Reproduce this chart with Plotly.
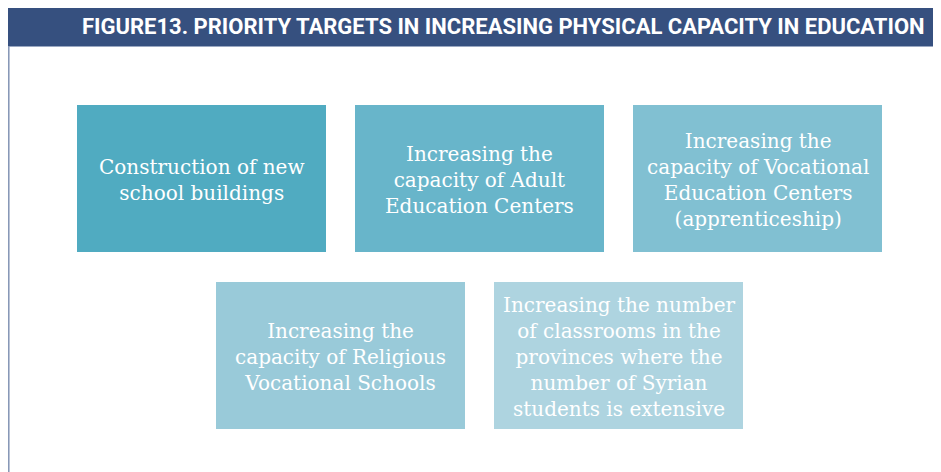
import plotly.graph_objects as go

title_text = "FIGURE13. PRIORITY TARGETS IN INCREASING PHYSICAL CAPACITY IN EDUCATION"

labels = [
    "Construction of new<br>school buildings",
    "Increasing the<br>capacity of Adult<br>Education Centers",
    "Increasing the<br>capacity of Vocational<br>Education Centers<br>(apprenticeship)",
    "Increasing the<br>capacity of Religious<br>Vocational Schools",
    "Increasing the number<br>of classrooms in the<br>provinces where the<br>number of Syrian<br>students is extensive",
]
rows = [0, 0, 0, 1, 1]
cols = [0, 1, 2, 0.5, 1.5]
colors = ["#50abc1", "#68b5ca", "#81c0d2", "#99cad9", "#aed4e0"]

W, H = 941, 472
OFF = 8  # default page body margin
box_w, box_h = 249, 147
x0_base, col_step = 77, 278
y0_base, row_step = 105, 177

fig = go.Figure()
shapes = []
annotations = []

# frame and title bar
shapes.append(dict(type="rect", xref="x", yref="y", x0=OFF, x1=W, y0=OFF, y1=46,
                   fillcolor="#36507f", line=dict(width=0)))
shapes.append(dict(type="line", xref="x", yref="y", x0=OFF, x1=W, y0=46.5, y1=46.5,
                   line=dict(color="#9aa8c2", width=1)))
shapes.append(dict(type="line", xref="x", yref="y", x0=OFF + 0.8, x1=OFF + 0.8, y0=46, y1=H,
                   line=dict(color="#8393b4", width=1.5)))
annotations.append(dict(x=503, y=26, xref="x", yref="y", text="<b>" + title_text + "</b>",
                        showarrow=False, xanchor="center", yanchor="middle",
                        font=dict(family="Roboto", size=22, color="white")))

for lab, r, c, col in zip(labels, rows, cols, colors):
    x0 = x0_base + c * col_step
    y0 = y0_base + r * row_step
    shapes.append(dict(type="rect", xref="x", yref="y", x0=x0, x1=x0 + box_w,
                       y0=y0, y1=y0 + box_h, fillcolor=col, line=dict(width=0),
                       layer="below"))
    annotations.append(dict(x=x0 + box_w / 2, y=y0 + box_h / 2 + 1, xref="x", yref="y",
                            text=lab, showarrow=False, xanchor="center", yanchor="middle",
                            align="center",
                            font=dict(family="DejaVu Serif", size=20, color="white")))

fig.update_layout(
    width=W - OFF, height=H - OFF,
    margin=dict(l=0, r=0, t=0, b=0),
    paper_bgcolor="white", plot_bgcolor="white",
    xaxis=dict(range=[OFF, W], visible=False, fixedrange=True),
    yaxis=dict(range=[H, OFF], visible=False, fixedrange=True),
    shapes=shapes, annotations=annotations, showlegend=False,
)
fig.write_html("out.html", config={"displayModeBar": False})
